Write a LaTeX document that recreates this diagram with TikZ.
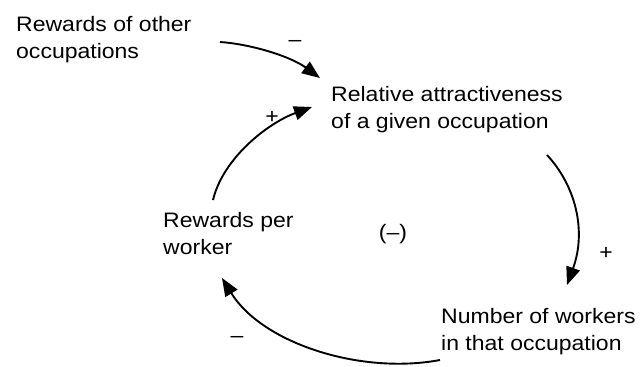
\documentclass[tikz,border=0pt]{standalone}
\usepackage{fontspec}
\setmainfont[FakeStretch=1.1]{Liberation Sans}
\usepackage{tikz}
\usetikzlibrary{arrows.meta}

\begin{document}
\begin{tikzpicture}[
	% Picture Styling
	x=1bp, y=-1bp,
	>={Triangle[length=18bp, width=14bp]},
	factor/.style={align=left, inner sep=0pt, anchor=base west, font=\fontsize{21}{26.5}\selectfont},
	sign/.style={inner sep=0pt, font=\fontsize{21}{26}\selectfont},
	link/.style={->, line width=1.9bp, draw=black}
]
\useasboundingbox (0,0) rectangle (641,366);
% Variables del ciclo
\node[factor] (recompensas_otras) at (16,58) {Rewards of other\\occupations};
\node[factor] (atractivo) at (331,128) {Relative attractiveness\\of a given occupation};
\node[factor] (recompensas) at (163,254) {Rewards per\\worker};
\node[factor] (trabajadores) at (441,350) {Number of workers\\in that occupation};
\node[sign] (bucle) at (393,234) {(–)};
% Enlaces causales
\draw[link] ([shift={(204,-16)}]recompensas_otras.base west) .. controls +(30,2) and +(-30,-22) .. ([shift={(-11,-50)}]atractivo.base west);
\draw[link] ([shift={(50,-54)}]recompensas.base west) .. controls +(10,-42) and +(-44,16) .. ([shift={(-19,-21)}]atractivo.base west);
\draw[link] ([shift={(216,27)}]atractivo.base west) .. controls +(28,30) and +(20,-55) .. ([shift={(126,-65)}]trabajadores.base west);
\draw[link] ([shift={(-1,10)}]trabajadores.base west) .. controls +(-80,15) and +(40,65) .. ([shift={(59,24)}]recompensas.base west);
% Polaridades
\node[sign] (signo_otras) at (295,43) {–};
\node[sign] (signo_recompensas) at (272,117) {+};
\node[sign] (signo_atractivo) at (606,253) {+};
\node[sign] (signo_trabajadores) at (237,339) {–};
\end{tikzpicture}
\end{document}
